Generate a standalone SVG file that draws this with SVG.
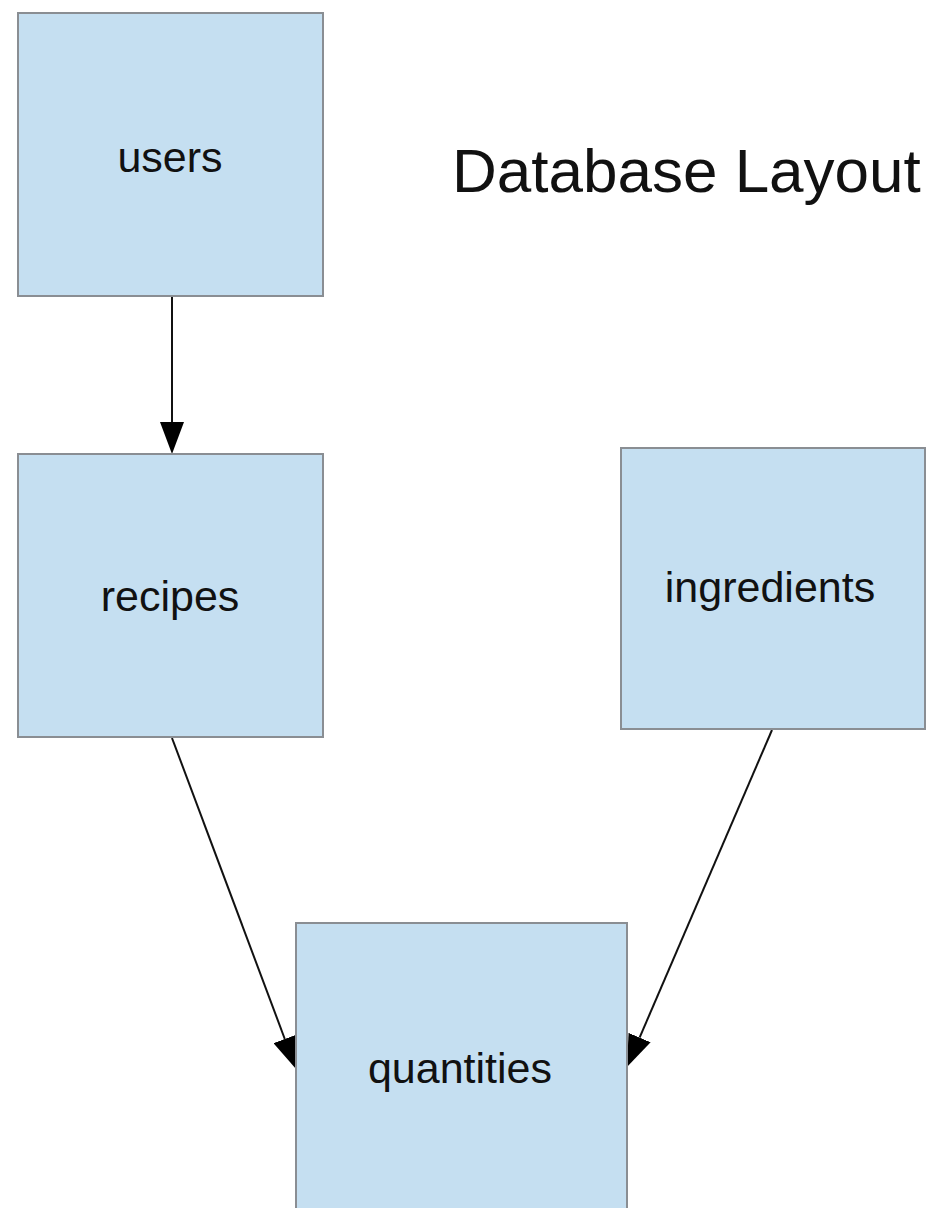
<svg xmlns="http://www.w3.org/2000/svg" width="942" height="1208" viewBox="0 0 942 1208">
<style>
.box{fill:#c5dff1;stroke:#8a8e93;stroke-width:2}
.lbl{font-family:"Liberation Sans",Arial,sans-serif;font-size:43px;fill:#111;text-anchor:middle}
.edge{stroke:#111;stroke-width:2;fill:none;marker-end:url(#ah)}
</style>
<defs>
<marker id="ah" viewBox="0 0 32 24" refX="0" refY="12" markerWidth="32" markerHeight="24" markerUnits="userSpaceOnUse" orient="auto">
<path d="M0,0 L32,12 L0,24 Z" fill="#000"/>
</marker>
</defs>
<rect width="942" height="1208" fill="#fff"/>
<text x="452" y="192" font-family="Liberation Sans,Arial,sans-serif" font-size="62" fill="#111">Database Layout</text>
<g id="connectors">
<line class="edge" x1="172" y1="297" x2="172" y2="422"/>
<line class="edge" x1="172" y1="738" x2="284.8" y2="1039"/>
<line class="edge" x1="772" y1="730" x2="639.6" y2="1037.6"/>
</g>
<g id="users"><rect class="box" x="18" y="13" width="305" height="283"/><text class="lbl" x="170" y="172">users</text></g>
<g id="recipes"><rect class="box" x="18" y="454" width="305" height="283"/><text class="lbl" x="170" y="611">recipes</text></g>
<g id="ingredients"><rect class="box" x="621" y="448" width="304" height="281"/><text class="lbl" x="770" y="602">ingredients</text></g>
<g id="quantities"><rect class="box" x="296" y="923" width="331" height="300"/><text class="lbl" x="460" y="1083">quantities</text></g>
</svg>
